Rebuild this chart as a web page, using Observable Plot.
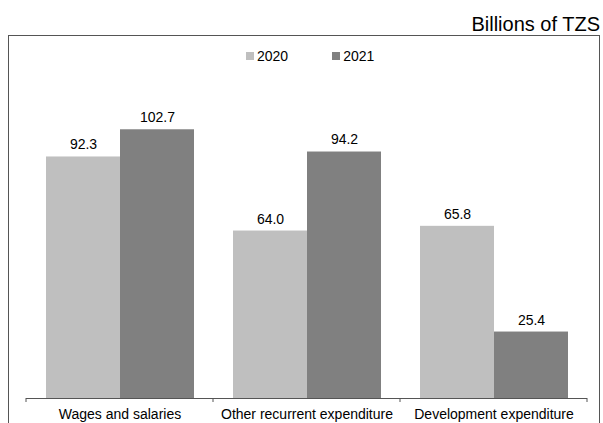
<!DOCTYPE html>
<html>
<head>
<meta charset="utf-8">
<script src="https://cdn.jsdelivr.net/npm/d3@7"></script>
<script src="https://cdn.jsdelivr.net/npm/@observablehq/plot@0.6"></script>
<style>
  html, body { margin: 0; padding: 0; background: #fff; }
  #wrap { position: relative; width: 603px; height: 423px; overflow: hidden; font-family: "Liberation Sans", Arial, sans-serif; color: #000; }
  #title { position: absolute; right: 3px; top: 14px; font-size: 20px; line-height: 20px; }
  #box { position: absolute; left: 8px; top: 35px; width: 592px; height: 500px; box-sizing: border-box; border: 1px solid #555; }
  #chart { position: absolute; left: 0; top: 0; }
  #legend { position: absolute; left: 246px; top: 48px; }
  .lg-swatches { font-family: "Liberation Sans", Arial, sans-serif; font-size: 14px; margin: 0; }
  .lg-swatches-wrap { min-height: 16px; }
  .lg-swatch { margin-right: 44px; }
  .lg-swatch > svg { margin-right: 3px; }
</style>
</head>
<body>
<div id="wrap">
  <div id="box"></div>
  <div id="title">Billions of TZS</div>
  <div id="chart"></div>
  <div id="legend"></div>
</div>
<script>
const categories = ["Wages and salaries", "Other recurrent expenditure", "Development expenditure"];
const years = ["2020", "2021"];
const values2020 = [92.3, 64.0, 65.8];
const values2021 = [102.7, 94.2, 25.4];
const colors = ["#bfbfbf", "#808080"];

const series = {"2020": values2020, "2021": values2021};
const data = categories.flatMap((c, i) => years.map(y => ({category: c, year: y, value: series[y][i]})));

const plot = Plot.plot({
  width: 603,
  height: 423,
  marginLeft: 25,
  marginRight: 16,
  marginTop: 84,
  marginBottom: 25,
  style: {fontFamily: "Liberation Sans, Arial, sans-serif", fontSize: "14px", color: "#000", background: "transparent"},
  fx: {domain: categories, padding: 0, label: null},
  x: {domain: years, paddingInner: 0, paddingOuter: 0.25, axis: null},
  y: {domain: [0, 120], axis: null},
  color: {domain: years, range: colors},
  marks: [
    Plot.barY(data, {fx: "category", x: "year", y: "value", fill: "year"}),
    Plot.text(data, {fx: "category", x: "year", y: "value", text: d => d.value.toFixed(1), lineAnchor: "middle", dy: -12, fontSize: 14, fill: "#000"}),
    Plot.ruleY([0], {stroke: "#555", strokeWidth: 1}),
    Plot.axisFx({anchor: "bottom", tickSize: 0, tickPadding: 11, fontSize: 14, fill: "#000", label: null})
  ]
});
document.getElementById("chart").appendChild(plot);

// boundary ticks between categories, positioned with the plot's own fx and y scales
const fx = plot.scale("fx");
const ys = plot.scale("y");
const y0 = ys.apply(0);
const bounds = categories.map(c => fx.apply(c)).concat([fx.apply(categories[categories.length - 1]) + fx.bandwidth]);
d3.select(plot).append("g")
  .attr("stroke", "#555")
  .selectAll("line")
  .data(bounds)
  .join("line")
  .attr("x1", d => d).attr("x2", d => d)
  .attr("y1", y0).attr("y2", y0 + 4);

const legend = plot.legend("color", {swatchWidth: 8, swatchHeight: 8, className: "lg"});
document.getElementById("legend").appendChild(legend);
</script>
</body>
</html>
